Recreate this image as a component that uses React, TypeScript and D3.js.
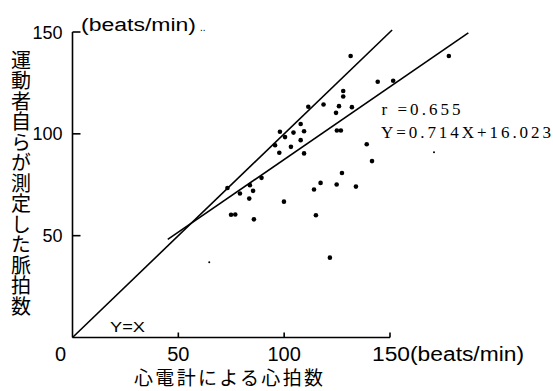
import React from 'react'
import * as d3 from 'd3'

// heart rate from ECG (x) vs. self-measured pulse (y), beats/min
const ecgRate = [
  131.4, 144.2, 151.5, 177.8, 127.9, 127.9, 118.6, 125.9, 132.0, 111.4,
  124.5, 124.9, 126.8, 98.0, 104.4, 109.4, 107.8, 100.4, 95.7, 103.2,
  107.8, 97.7, 109.4, 89.3, 83.8, 85.3, 79.1, 83.5, 73.2, 99.9,
  74.9, 76.9, 85.7, 115.0, 114.1, 117.2, 124.8, 127.3, 133.9, 139.0,
  141.5, 121.6,
]
const selfPulse = [
  138.2, 125.6, 126.1, 138.2, 121.0, 118.3, 114.4, 113.6, 113.1, 113.3,
  110.3, 101.6, 101.6, 101.0, 100.6, 101.3, 104.8, 98.4, 94.4, 93.6,
  96.9, 90.7, 90.4, 78.4, 74.8, 72.0, 70.7, 68.2, 73.4, 66.7,
  60.3, 60.4, 58.0, 60.0, 72.7, 75.9, 75.1, 80.8, 74.1, 94.9,
  86.6, 39.2,
]
// two faint specks in the scan
const faintX = [170.8, 64.6]
const faintY = [91.0, 36.9]

const xTicks = [0, 50, 100, 150]
const yTicks = [50, 100, 150]
const slope = 0.714
const intercept = 16.023
const regRange = [45, 187]
const identityRange = [0, 151]

const yTitle = '運動者自らが測定した脈拍数'
const xTitle = '心電計による心拍数'

const sans = '"Liberation Sans", Arial, sans-serif'
const serif = '"Liberation Serif", "Times New Roman", serif'
const cjk = '"Noto Sans CJK JP", sans-serif'

export default function App() {
  const width = 553
  const height = 391

  const x = d3.scaleLinear().domain([0, 150]).range([72.5, 390])
  const y = d3.scaleLinear().domain([0, 150]).range([337.5, 32])

  const line = d3.line<number[]>().x(d => x(d[0])).y(d => y(d[1]))
  const regPath = line(regRange.map(v => [v, slope * v + intercept]))
  const idPath = line(identityRange.map(v => [v, v]))

  return (
    <div style={{ position: 'absolute', left: 0, top: 0 }}>
      <svg width={width} height={height} viewBox={`0 0 ${width} ${height}`} style={{ display: 'block', background: '#fff' }}>
        {/* axes */}
        <g stroke="#000" strokeWidth={1.6} fill="none">
          <line x1={x(0)} x2={x(0)} y1={y(150)} y2={y(0)} />
          <line x1={x(0)} x2={x(150)} y1={y(0)} y2={y(0)} />
          {yTicks.map(t => (
            <line key={'yt' + t} x1={x(0)} x2={x(0) + 8} y1={y(t)} y2={y(t)} />
          ))}
          {xTicks.filter(t => t > 0).map(t => (
            <line key={'xt' + t} x1={x(t)} x2={x(t)} y1={y(0)} y2={y(0) - 5} />
          ))}
        </g>

        {/* tick labels */}
        <g fontFamily={sans} fontSize={18} fill="#000">
          {yTicks.map(t => (
            <text key={'yl' + t} x={x(0) - 10} y={y(t) + 6.5} textAnchor="end">{t}</text>
          ))}
        </g>
        <g fontFamily={sans} fontSize={20} fill="#000">
          {xTicks.filter(t => t < 150).map(t => (
            <text key={'xl' + t} x={t === 0 ? x(0) - 12 : x(t)} y={y(0) + 23} textAnchor="middle">{t}</text>
          ))}
          <text x={x(150) - 18} y={y(0) + 23} textLength={152} lengthAdjust="spacingAndGlyphs">150(beats/min)</text>
        </g>
        <text x={81} y={31} fontFamily={sans} fontSize={18} textLength={115} lengthAdjust="spacingAndGlyphs">(beats/min)</text>
        <text x={200} y={31} fontFamily={sans} fontSize={10}>..</text>

        {/* axis titles */}
        <text x={134} y={385} fontFamily={cjk} fontSize={19} textLength={189} lengthAdjust="spacing">{xTitle}</text>
        <text x={21} y={50} fontFamily={cjk} fontSize={20} letterSpacing={0.5}
          style={{ writingMode: 'vertical-rl' }}>{yTitle}</text>

        {/* lines */}
        <path d={idPath || ''} stroke="#000" strokeWidth={1.6} fill="none" />
        <path d={regPath || ''} stroke="#000" strokeWidth={1.6} fill="none" />

        {/* points */}
        {ecgRate.map((v, i) => (
          <circle key={'p' + i} cx={x(v)} cy={y(selfPulse[i])} r={2.3} fill="#000" />
        ))}
        {faintX.map((v, i) => (
          <circle key={'f' + i} cx={x(v)} cy={y(faintY[i])} r={1} fill="#000" />
        ))}

        {/* annotations */}
        <text x={381.5} y={115} fontFamily={serif} fontSize={17} textLength={79} lengthAdjust="spacing">r =0.655</text>
        <text x={381} y={138} fontFamily={serif} fontSize={17} textLength={170} lengthAdjust="spacing">Y=0.714X+16.023</text>
        <text x={110} y={332} fontFamily={sans} fontSize={14} textLength={35} lengthAdjust="spacingAndGlyphs">Y=X</text>
      </svg>
    </div>
  )
}
